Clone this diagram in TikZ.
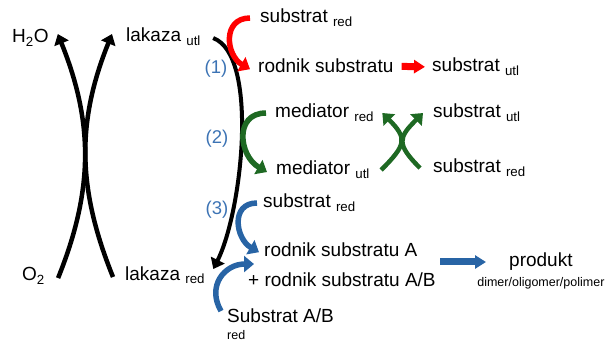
\documentclass[tikz,border=0pt]{standalone}
\usepackage{fontspec}
\setmainfont{Liberation Sans}
\usetikzlibrary{arrows.meta}

\definecolor{arrred}{RGB}{255,0,0}
\definecolor{arrgreen}{RGB}{30,105,35}
\definecolor{arrblue}{RGB}{40,100,165}
\definecolor{numblue}{RGB}{60,115,180}

\begin{document}
\begin{tikzpicture}[x=1pt,y=1pt]
\tikzstyle{word}=[inner sep=0pt,anchor=base west,font=\fontsize{19}{22}\selectfont]
\tikzstyle{small}=[inner sep=0pt,font=\fontsize{12.5}{14}\selectfont]
\tikzstyle{num}=[inner sep=0pt,text=numblue,font=\fontsize{18.5}{21}\selectfont]
\tikzstyle{bow}=[line width=5.5pt,-{Triangle[length=10pt,width=16pt]}]
\tikzstyle{blackbow}=[line width=4.5pt,-{Triangle[length=10pt,width=15pt]}]
\tikzstyle{block}=[line width=7pt,-{Triangle[length=11pt,width=13pt]}]
\useasboundingbox (0,0) rectangle (606,-342);

\begin{scope}
\node[word] (h2o) at (12,-43) {H\textsubscript{2}O};
\node[word] (o2) at (22,-281) {O\textsubscript{2}};
\node[word] (lakutl) at (126,-42) {lakaza \textsubscript{utl}};
\node[word] (lakred) at (125,-280) {lakaza \textsubscript{red}};

\draw[blackbow] ([xshift=13pt,yshift=-2pt]o2.east) to [out=68,in=-68] ([xshift=9pt,yshift=4pt]h2o.east);
\draw[blackbow] ([xshift=-12pt,yshift=-2pt]lakred.west) to [out=112,in=-112] ([xshift=-14pt,yshift=3pt]lakutl.west);
\draw[blackbow,line width=4pt] ([xshift=12pt,yshift=-1pt]lakutl.east) .. controls +(46,-17) and +(29,58) .. ([xshift=8pt,yshift=6pt]lakred.east);
\end{scope}

\node[num] (n1) at (216,-69) {(1)};
\node[num] (n2) at (217,-139) {(2)};
\node[num] (n3) at (217,-210) {(3)};

\begin{scope}
\node[word] (sr1) at (260,-23) {substrat \textsubscript{red}};
\node[word] (rs1) at (258,-73) {rodnik substratu};
\node[word] (su1) at (432,-72) {substrat \textsubscript{utl}};

\draw[bow,arrred] ([xshift=-10pt]sr1.west) to [out=180,in=150,looseness=1.4] ([xshift=-8pt,yshift=-3pt]rs1.west);
\draw[block,arrred,shorten <=8pt,shorten >=7pt] (rs1.east) -- (su1.west);
\end{scope}

\begin{scope}
\node[word] (mr) at (275,-118) {mediator \textsubscript{red}};
\node[word] (mu) at (276,-175) {mediator \textsubscript{utl}};
\node[word] (su2) at (433,-118) {substrat \textsubscript{utl}};
\node[word] (sr2) at (433,-173) {substrat \textsubscript{red}};

\draw[bow,arrgreen] ([xshift=-9pt]mr.west) to [out=180,in=150,looseness=1.4] ([xshift=-9pt,yshift=-2pt]mu.west);
\draw[bow,arrgreen,line width=4.5pt] ([xshift=11pt]mu.east) to [out=45,in=-45,looseness=1.6] ([xshift=8pt]mr.east);
\draw[bow,arrgreen,line width=4.5pt] ([xshift=-13pt]sr2.west) to [out=135,in=-135,looseness=1.6] ([xshift=-10pt]su2.west);
\end{scope}

\begin{scope}
\node[word] (sr3) at (263,-208) {substrat \textsubscript{red}};
\node[word] (rsa) at (264,-257) {rodnik substratu A};
\node[word] (rsab) at (248,-287) {+ rodnik substratu A/B};
\node[word] (sab) at (227,-323) {Substrat A/B};
\node[small,anchor=base west] (sabred) at (227,-340) {red};
\node[word] (prod) at (509,-267) {produkt};
\node[small,anchor=base] (dop) at ([yshift=-20pt]prod.base) {dimer/oligomer/polimer};
\coordinate (pstart) at (440,-262);

\draw[bow,arrblue] ([xshift=-6pt]sr3.west) to [out=180,in=150,looseness=1.4] ([xshift=-5pt,yshift=-2pt]rsa.west);
\draw[bow,arrblue] ([xshift=-6pt,yshift=-2pt]sab.north west) to [out=120,in=180,looseness=1.3] ([xshift=6pt,yshift=9pt]rsab.north west);
\draw[block,arrblue,shorten >=23pt] (pstart) -- (pstart -| prod.west);
\end{scope}
\end{tikzpicture}
\end{document}
